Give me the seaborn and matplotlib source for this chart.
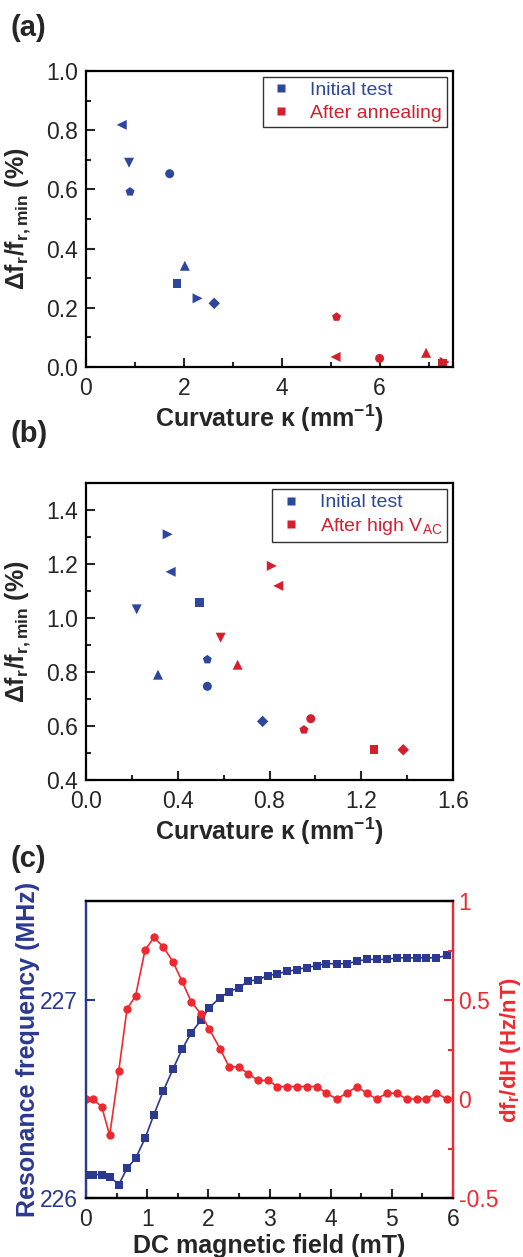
import numpy as np
import pandas as pd
import matplotlib
matplotlib.use("Agg")
import matplotlib.pyplot as plt
import seaborn as sns
from matplotlib.lines import Line2D
from matplotlib.ticker import MultipleLocator, FormatStrFormatter, FuncFormatter

# ---------------- data ----------------
# panel (a): curvature vs relative frequency shift
a_init_sample = ["S5", "S4", "S8", "S2", "S1", "S3", "S6", "S7"]
a_init_k = [0.73, 0.88, 0.90, 1.71, 1.86, 2.02, 2.28, 2.62]
a_init_df = [0.818, 0.690, 0.592, 0.653, 0.283, 0.342, 0.232, 0.215]

a_ann_sample = ["S8", "S5", "S2", "S3", "S1", "S6"]
a_ann_k = [5.12, 5.10, 6.00, 6.95, 7.29, 7.33]
a_ann_df = [0.169, 0.034, 0.029, 0.048, 0.012, 0.017]

# panel (b)
b_init_sample = ["S6", "S5", "S4", "S1", "S8", "S3", "S2", "S7"]
b_init_k = [0.356, 0.369, 0.221, 0.494, 0.529, 0.314, 0.529, 0.770]
b_init_df = [1.310, 1.171, 1.032, 1.057, 0.846, 0.790, 0.747, 0.617]

b_hv_sample = ["S6", "S5", "S4", "S3", "S2", "S8", "S1", "S7"]
b_hv_k = [0.810, 0.838, 0.587, 0.661, 0.980, 0.950, 1.256, 1.383]
b_hv_df = [1.193, 1.119, 0.927, 0.827, 0.627, 0.586, 0.512, 0.512]

# panel (c)
field = [0.0, 0.11, 0.257, 0.387, 0.535, 0.67, 0.81, 0.965, 1.11, 1.26, 1.42,
         1.57, 1.72, 1.885, 2.01, 2.19, 2.34, 2.50, 2.65, 2.81, 2.975, 3.13,
         3.29, 3.45, 3.61, 3.77, 3.93, 4.10, 4.26, 4.43, 4.59, 4.75, 4.92,
         5.08, 5.24, 5.41, 5.56, 5.73, 5.90]
freq = [226.118, 226.118, 226.118, 226.108, 226.068, 226.149, 226.200, 226.301,
        226.421, 226.538, 226.650, 226.751, 226.834, 226.900, 226.959, 227.012,
        227.042, 227.062, 227.095, 227.103, 227.123, 227.133, 227.144, 227.154,
        227.164, 227.174, 227.184, 227.183, 227.183, 227.196, 227.205, 227.205,
        227.205, 227.213, 227.213, 227.213, 227.213, 227.213, 227.225]
dfdh = [0.0, 0.0, -0.039, -0.184, 0.141, 0.454, 0.520, 0.752, 0.816, 0.770,
        0.694, 0.595, 0.491, 0.427, 0.356, 0.255, 0.162, 0.162, 0.128, 0.094,
        0.094, 0.063, 0.063, 0.063, 0.063, 0.063, 0.029, 0.0, 0.029, 0.063,
        0.029, 0.0, 0.029, 0.029, 0.0, 0.0, 0.0, 0.029, 0.0]

labels_a = ["Initial test", "After annealing"]
labels_b = ["Initial test", r"After high V$_{\mathrm{AC}}$"]

# ---------------- style ----------------
sns.set_style("ticks")
plt.rcParams["font.family"] = ["Liberation Sans", "DejaVu Sans"]
plt.rcParams["mathtext.fontset"] = "custom"
plt.rcParams["mathtext.rm"] = "Liberation Sans"
plt.rcParams["mathtext.it"] = "Liberation Sans:italic"
plt.rcParams["mathtext.bf"] = "Liberation Sans:bold"
plt.rcParams["axes.unicode_minus"] = False

BLUE = "#2E479E"
RED = "#D3202E"
NAVY = "#2B3990"
BRIGHT_RED = "#EE2A30"

marker_map = {"S1": "s", "S2": "o", "S3": "^", "S4": "v",
              "S5": "<", "S6": ">", "S7": "D", "S8": "p"}
size_map = {"S1": 40, "S2": 42, "S3": 52, "S4": 52,
            "S5": 52, "S6": 52, "S7": 34, "S8": 46}

TICK_FS = 16.5
LABEL_FS = 18

fig = plt.figure(figsize=(5.23, 12.57), dpi=100)
L, W = 86 / 523, 367 / 523
ax_a = fig.add_axes([L, 1 - 367 / 1257, W, 296 / 1257])
ax_b = fig.add_axes([L, 1 - 780 / 1257, W, 297 / 1257])
ax_c = fig.add_axes([L, 1 - 1198 / 1257, W, 297 / 1257])


def style_axis(ax):
    for s in ax.spines.values():
        s.set_linewidth(1.6)
        s.set_color("black")
    ax.tick_params(which="both", direction="in", width=1.5, labelsize=TICK_FS,
                   top=False, right=False)
    ax.tick_params(which="major", length=6.5)
    ax.tick_params(which="minor", length=3.5)
    ax.tick_params(axis="x", which="both", pad=7)
    ax.tick_params(axis="y", which="both", pad=6)


def scatter_panel(ax, k1, d1, s1, k2, d2, s2, labels):
    df = pd.DataFrame({
        "k": k1 + k2,
        "d": d1 + d2,
        "sample": s1 + s2,
        "series": [labels[0]] * len(k1) + [labels[1]] * len(k2),
    })
    sns.scatterplot(data=df, x="k", y="d", hue="series", style="sample",
                    size="sample", sizes=size_map,
                    markers=marker_map, palette={labels[0]: BLUE, labels[1]: RED},
                    linewidth=0, legend=False, ax=ax, clip_on=False)
    handles = [Line2D([], [], ls="none", marker="s", ms=5.5, mec="none", mfc=BLUE),
               Line2D([], [], ls="none", marker="s", ms=5.5, mec="none", mfc=RED)]
    leg = ax.legend(handles, labels, loc="upper right", fontsize=14,
                    frameon=True, fancybox=False, edgecolor="black",
                    borderaxespad=0.3, handletextpad=0.8, handlelength=1.4,
                    borderpad=0.25, labelspacing=0.25)
    leg.get_frame().set_linewidth(1.0)
    for t, c in zip(leg.get_texts(), [BLUE, RED]):
        t.set_color(c)
    ax.set_xlabel(r"Curvature κ (mm$^{\mathbf{-1}}$)", fontsize=LABEL_FS,
                  fontweight="bold", labelpad=2)
    ax.set_ylabel(r"Δf$_{\mathbf{r}}$/f$_{\mathbf{r,min}}$ (%)", fontsize=LABEL_FS,
                  fontweight="bold", labelpad=9)
    style_axis(ax)


# ---- panel (a)
scatter_panel(ax_a, a_init_k, a_init_df, a_init_sample,
              a_ann_k, a_ann_df, a_ann_sample, labels_a)
ax_a.set_xlim(0, 7.5)
ax_a.set_ylim(0, 1.0)
ax_a.xaxis.set_major_locator(MultipleLocator(2))
ax_a.xaxis.set_minor_locator(MultipleLocator(1))
ax_a.yaxis.set_major_locator(MultipleLocator(0.2))
ax_a.yaxis.set_minor_locator(MultipleLocator(0.1))
ax_a.xaxis.set_major_formatter(FormatStrFormatter("%d"))
ax_a.yaxis.set_major_formatter(FormatStrFormatter("%.1f"))

# ---- panel (b)
scatter_panel(ax_b, b_init_k, b_init_df, b_init_sample,
              b_hv_k, b_hv_df, b_hv_sample, labels_b)
ax_b.set_xlim(0, 1.6)
ax_b.set_ylim(0.4, 1.5)
ax_b.xaxis.set_major_locator(MultipleLocator(0.4))
ax_b.xaxis.set_minor_locator(MultipleLocator(0.2))
ax_b.yaxis.set_major_locator(MultipleLocator(0.2))
ax_b.yaxis.set_minor_locator(MultipleLocator(0.1))
ax_b.xaxis.set_major_formatter(FormatStrFormatter("%.1f"))
ax_b.yaxis.set_major_formatter(FormatStrFormatter("%.1f"))

# ---- panel (c)
ax_c2 = ax_c.twinx()
sns.lineplot(x=field, y=freq, ax=ax_c, color=NAVY, marker="s", markersize=5.5,
             markeredgewidth=0, linewidth=1.2)
sns.lineplot(x=field, y=dfdh, ax=ax_c2, color=BRIGHT_RED, marker="o", markersize=6,
             markeredgewidth=0, linewidth=1.2)
ax_c.set_xlim(0, 6)
ax_c.set_ylim(226, 227.5)
ax_c2.set_ylim(-0.5, 1.0)
style_axis(ax_c)
for s in ax_c2.spines.values():
    s.set_linewidth(1.6)
ax_c.spines["left"].set_color(NAVY)
ax_c2.spines["left"].set_color(NAVY)
ax_c2.spines["right"].set_color(BRIGHT_RED)
ax_c.spines["right"].set_color(BRIGHT_RED)
ax_c2.spines["top"].set_color("black")
ax_c2.spines["bottom"].set_color("black")
ax_c.xaxis.set_major_locator(MultipleLocator(1))
ax_c.xaxis.set_minor_locator(MultipleLocator(0.5))
ax_c.yaxis.set_major_locator(MultipleLocator(1))
ax_c.yaxis.set_major_formatter(FormatStrFormatter("%d"))
ax_c.tick_params(axis="y", colors=NAVY, which="both")
ax_c2.yaxis.set_major_locator(MultipleLocator(0.5))
ax_c2.yaxis.set_minor_locator(MultipleLocator(0.25))
ax_c2.yaxis.set_major_formatter(FuncFormatter(lambda v, p: f"{v:g}"))
ax_c2.tick_params(which="both", direction="in", width=1.5, labelsize=TICK_FS,
                  colors=BRIGHT_RED, pad=4)
ax_c2.tick_params(which="major", length=6.5)
ax_c2.tick_params(which="minor", length=3.5)
ax_c.set_xlabel("DC magnetic field (mT)", fontsize=LABEL_FS, fontweight="bold",
                labelpad=2)
ax_c.set_ylabel("Resonance frequency (MHz)", fontsize=LABEL_FS, fontweight="bold",
                color=NAVY, labelpad=0)
ax_c2.set_ylabel(r"df$_{\mathbf{r}}$/dH (Hz/nT)", fontsize=16,
                 fontweight="bold", color=BRIGHT_RED, labelpad=0)

# panel letters
for y, t in [(14, "(a)"), (420, "(b)"), (845, "(c)")]:
    fig.text(10 / 523, 1 - y / 1257, t, fontsize=21, fontweight="bold",
             va="top", ha="left")

fig.savefig("out.png", dpi=100)
